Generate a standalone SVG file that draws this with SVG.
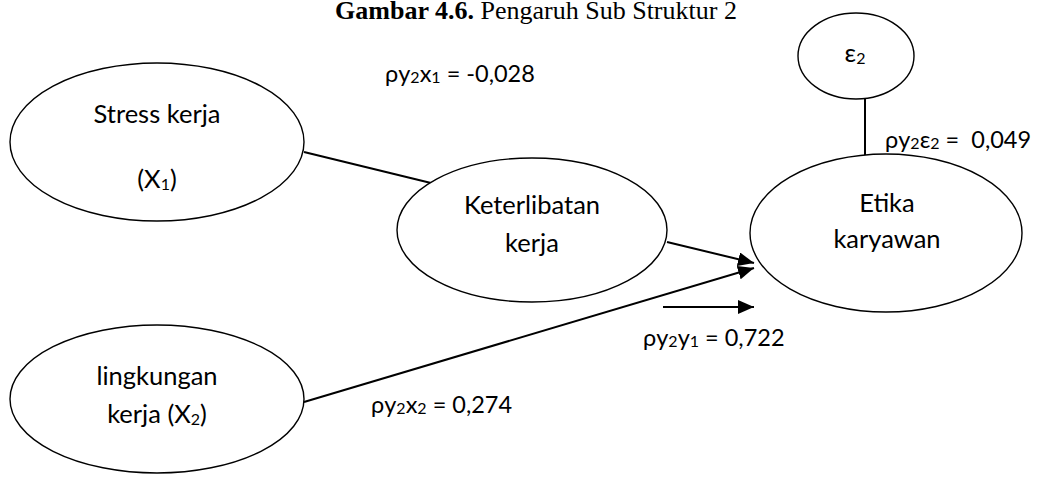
<svg xmlns="http://www.w3.org/2000/svg" width="1042" height="483" viewBox="0 0 1042 483">
<style>
.node{fill:#fff;stroke:#000;stroke-width:1.4}
.t{font-family:Lato,"Open Sans","Liberation Sans",sans-serif;font-size:25.5px;fill:#000}
.c{text-anchor:middle}
.lbl{font-family:Lato,"Open Sans","Liberation Sans",sans-serif;font-size:23.5px;fill:#000;white-space:pre}
.sub{font-size:16px}
.title{font-family:"Liberation Serif","Times New Roman",serif;font-size:26px;fill:#000;text-anchor:middle}
.edge{stroke:#000;stroke-width:2;fill:none}
</style>
<defs>
<marker id="ah" markerUnits="userSpaceOnUse" markerWidth="18" markerHeight="14" refX="16" refY="7" orient="auto">
<path d="M0,0 L16,7 L0,14 z" fill="#000"/>
</marker>
</defs>
<rect width="1042" height="483" fill="#fff"/>
<text class="title" x="536" y="19"><tspan font-weight="bold">Gambar 4.6.</tspan> Pengaruh Sub Struktur 2</text>
<g id="connectors">
<line class="edge" x1="304" y1="152" x2="431" y2="183"/>
<line class="edge" x1="667" y1="242" x2="754" y2="263" marker-end="url(#ah)"/>
<line class="edge" x1="304" y1="402" x2="754" y2="268" marker-end="url(#ah)"/>
<line class="edge" x1="663" y1="307" x2="754" y2="307" marker-end="url(#ah)"/>
<line class="edge" x1="865" y1="99" x2="865" y2="156"/>
</g>
<g id="stress">
<ellipse class="node" cx="157" cy="142" rx="147" ry="79"/>
<text class="t c" x="157" y="123">Stress kerja</text>
<text class="t c" x="157" y="188">(X<tspan class="sub" dy="2">1</tspan><tspan dy="-2">)</tspan></text>
</g>
<g id="lingkungan">
<ellipse class="node" cx="157" cy="399" rx="147" ry="74"/>
<text class="t c" x="157" y="385">lingkungan</text>
<text class="t c" x="157" y="423">kerja (X<tspan class="sub" dy="2">2</tspan><tspan dy="-2">)</tspan></text>
</g>
<g id="keterlibatan">
<ellipse class="node" cx="532" cy="230" rx="135" ry="72"/>
<text class="t c" x="532" y="214">Keterlibatan</text>
<text class="t c" x="532" y="252">kerja</text>
</g>
<g id="etika">
<ellipse class="node" cx="886" cy="233" rx="136" ry="79"/>
<text class="t c" x="887" y="212">Etika</text>
<text class="t c" x="887" y="248">karyawan</text>
</g>
<g id="epsilon">
<ellipse class="node" cx="856" cy="56" rx="58" ry="43"/>
<text class="t c" x="855" y="62">ε<tspan class="sub" dy="2">2</tspan></text>
</g>
<g id="labels">
<text class="lbl" x="385" y="82">ρy<tspan class="sub" dy="1">2</tspan><tspan dy="-1">x</tspan><tspan class="sub" dy="1">1</tspan><tspan dy="-1"> = -0,028</tspan></text>
<text class="lbl" x="885" y="148">ρy<tspan class="sub" dy="1">2</tspan><tspan dy="-1">ε</tspan><tspan class="sub" dy="1">2</tspan><tspan dy="-1"> =  0,049</tspan></text>
<text class="lbl" x="643" y="346">ρy<tspan class="sub" dy="1">2</tspan><tspan dy="-1">y</tspan><tspan class="sub" dy="1">1</tspan><tspan dy="-1"> = 0,722</tspan></text>
<text class="lbl" x="371" y="413">ρy<tspan class="sub" dy="1">2</tspan><tspan dy="-1">x</tspan><tspan class="sub" dy="1">2</tspan><tspan dy="-1"> = 0,274</tspan></text>
</g>
</svg>
